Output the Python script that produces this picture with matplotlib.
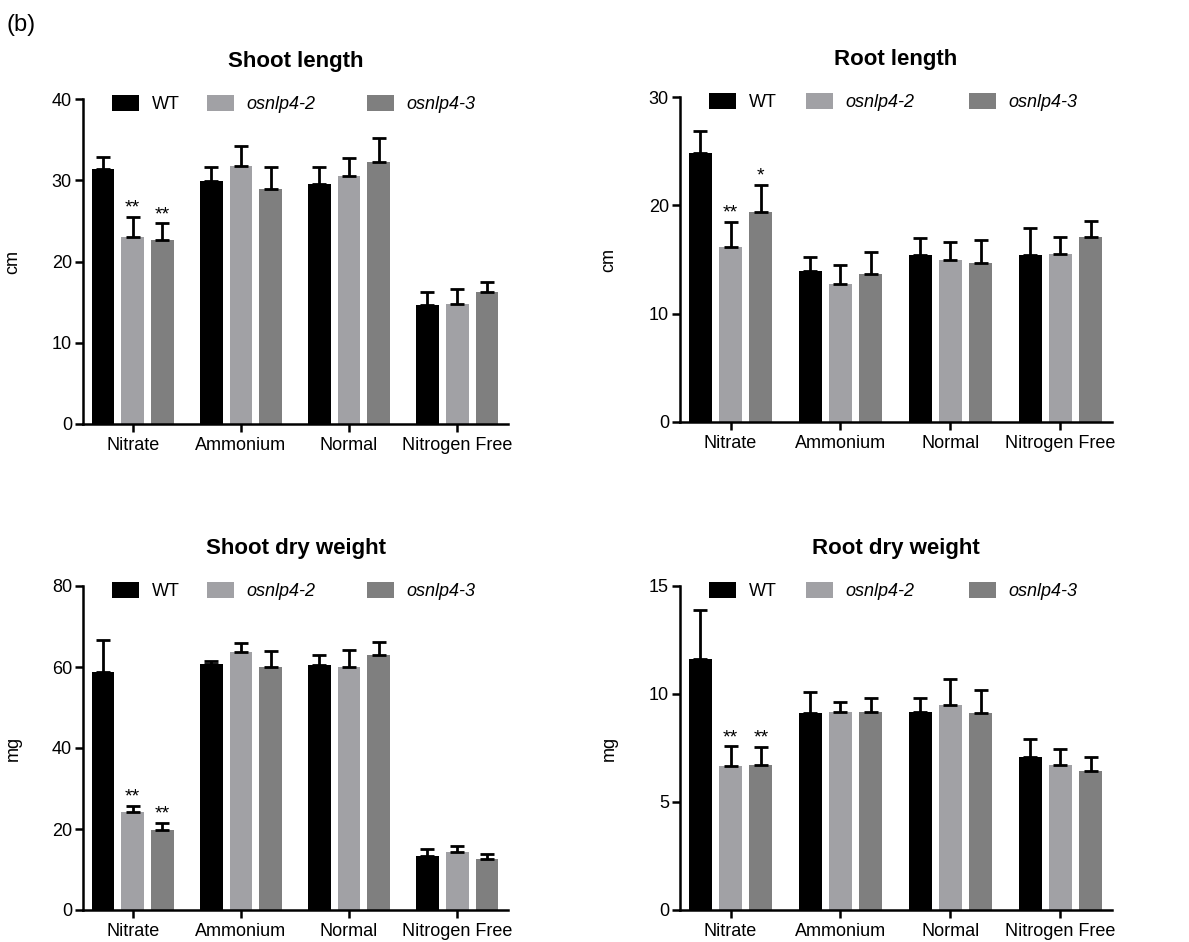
import numpy as np
import matplotlib
matplotlib.use("Agg")
import matplotlib.pyplot as plt
from matplotlib.patches import Patch
from matplotlib.legend import Legend

plt.rcParams['font.family'] = ['Liberation Sans', 'DejaVu Sans']

conditions = ["Nitrate", "Ammonium", "Normal", "Nitrogen Free"]
genotypes = ["WT", "osnlp4-2", "osnlp4-3"]
colors = ["#000000", "#a1a1a5", "#7f7f7f"]

# Shoot length (cm)
shoot_len = {"WT": [31.4, 29.9, 29.6, 14.7],
             "osnlp4-2": [23.0, 31.8, 30.5, 14.8],
             "osnlp4-3": [22.6, 28.9, 32.2, 16.2]}
shoot_len_err = {"WT": [1.5, 1.7, 2.0, 1.5],
                 "osnlp4-2": [2.5, 2.4, 2.3, 1.8],
                 "osnlp4-3": [2.1, 2.7, 3.0, 1.3]}
shoot_len_sig = {"osnlp4-2": ["**", "", "", ""], "osnlp4-3": ["**", "", "", ""]}

# Root length (cm)
root_len = {"WT": [24.8, 13.9, 15.4, 15.4],
            "osnlp4-2": [16.2, 12.7, 15.0, 15.5],
            "osnlp4-3": [19.4, 13.7, 14.7, 17.1]}
root_len_err = {"WT": [2.1, 1.3, 1.6, 2.5],
                "osnlp4-2": [2.3, 1.8, 1.6, 1.6],
                "osnlp4-3": [2.5, 2.0, 2.1, 1.5]}
root_len_sig = {"osnlp4-2": ["**", "", "", ""], "osnlp4-3": ["*", "", "", ""]}

# Shoot dry weight (mg)
shoot_dw = {"WT": [58.8, 60.8, 60.5, 13.4],
            "osnlp4-2": [24.3, 63.7, 59.9, 14.2],
            "osnlp4-3": [19.8, 59.9, 62.9, 12.7]}
shoot_dw_err = {"WT": [7.8, 0.6, 2.4, 1.7],
                "osnlp4-2": [1.4, 2.3, 4.4, 1.7],
                "osnlp4-3": [1.7, 4.1, 3.3, 1.1]}
shoot_dw_sig = {"osnlp4-2": ["**", "", "", ""], "osnlp4-3": ["**", "", "", ""]}

# Root dry weight (mg)
root_dw = {"WT": [11.6, 9.14, 9.18, 7.07],
           "osnlp4-2": [6.67, 9.18, 9.51, 6.70],
           "osnlp4-3": [6.70, 9.18, 9.14, 6.42]}
root_dw_err = {"WT": [2.3, 0.94, 0.63, 0.83],
               "osnlp4-2": [0.9, 0.45, 1.19, 0.74],
               "osnlp4-3": [0.86, 0.63, 1.05, 0.66]}
root_dw_sig = {"osnlp4-2": ["**", "", "", ""], "osnlp4-3": ["**", "", "", ""]}

panels = [
    ("Shoot length", "cm", shoot_len, shoot_len_err, shoot_len_sig, 40, 10,
     [83/1189, (942-424)/942, 425/1189, 325/942]),
    ("Root length", "cm", root_len, root_len_err, root_len_sig, 30, 10,
     [680/1189, (942-422)/942, 432/1189, 325/942]),
    ("Shoot dry weight", "mg", shoot_dw, shoot_dw_err, shoot_dw_sig, 80, 20,
     [83/1189, (942-910)/942, 425/1189, 324/942]),
    ("Root dry weight", "mg", root_dw, root_dw_err, root_dw_sig, 15, 5,
     [680/1189, (942-910)/942, 432/1189, 324/942]),
]

fig = plt.figure(figsize=(11.89, 9.42), dpi=100)
fig.text(6/1189, 1 - 25/942, "(b)", fontsize=17, va='center', ha='left')

x = np.arange(len(conditions))
pitch = 0.275
width = 0.21
lw = 1.8

for title, ylab, vals, errs, sigs, ymax, ystep, rect in panels:
    ax = fig.add_axes(rect)
    for i, g in enumerate(genotypes):
        xp = x + (i - 1) * pitch
        v = np.array(vals[g])
        e = np.array(errs[g])
        ax.bar(xp, v, width=width, color=colors[i], zorder=2)
        ax.errorbar(xp, v, yerr=[np.zeros_like(e), e], fmt='none', ecolor='black',
                    elinewidth=2, capsize=5, capthick=2, zorder=3)
        if g in sigs:
            for j, s in enumerate(sigs[g]):
                if s:
                    ax.annotate(s, (xp[j], v[j] + e[j]), xytext=(0, 0),
                                textcoords='offset points', ha='center', va='bottom',
                                fontsize=14)
    ax.set_xlim(-0.46, 3.47)
    ax.set_ylim(0, ymax)
    ax.set_yticks(np.arange(0, ymax + 0.001, ystep))
    ax.set_xticks(x)
    ax.set_xticklabels(conditions, fontsize=13)
    ax.tick_params(axis='y', labelsize=13, length=6, width=lw, pad=2)
    ax.tick_params(axis='x', length=6, width=lw, pad=3)
    for sp in ['top', 'right']:
        ax.spines[sp].set_visible(False)
    for sp in ['left', 'bottom']:
        ax.spines[sp].set_linewidth(lw)
    ax.set_title(title, fontsize=16, fontweight='bold', pad=23)
    ax.set_ylabel(ylab, fontsize=13)
    ax.yaxis.set_label_coords(-0.145, 0.5)

    # legend entries placed individually
    xs = [0.068, 0.292, 0.668]
    for i, g in enumerate(genotypes):
        style = 'normal' if g == "WT" else 'italic'
        leg = Legend(ax, [Patch(facecolor=colors[i], edgecolor='none')], [g],
                     loc='center left', bbox_to_anchor=(xs[i], 0.985),
                     frameon=False, borderpad=0, borderaxespad=0,
                     handlelength=1.5, handleheight=1.0, handletextpad=0.7,
                     prop={'size': 13, 'style': style})
        ax.add_artist(leg)

fig.savefig("out.png", dpi=100)
